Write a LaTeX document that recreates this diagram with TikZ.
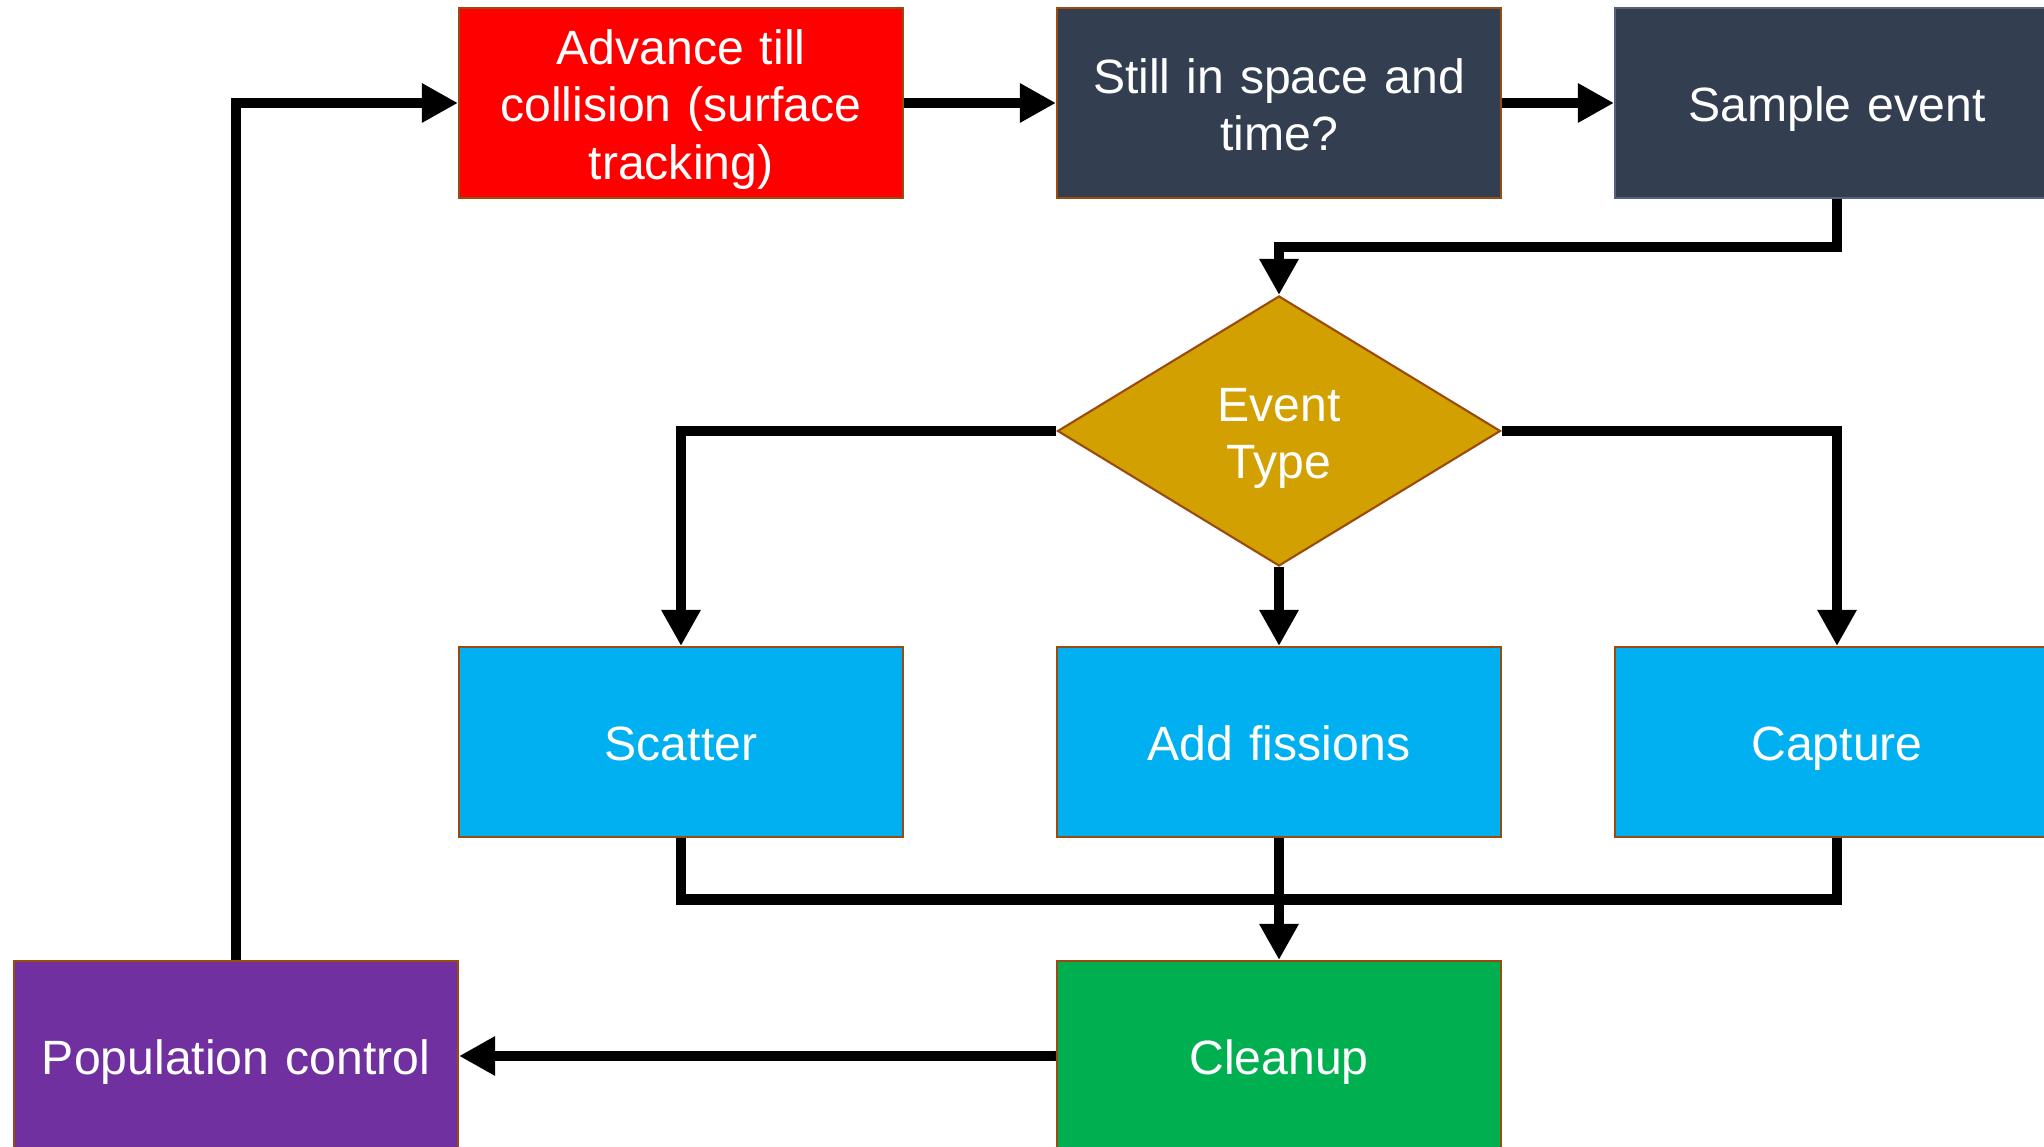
\documentclass[tikz,border=0pt]{standalone}
\usepackage{fontspec}
\setmainfont{Liberation Sans}
\usetikzlibrary{shapes.geometric,arrows.meta}
\definecolor{bord}{HTML}{9A4B0F}
\definecolor{cred}{HTML}{FF0000}
\definecolor{cdark}{HTML}{333F50}
\definecolor{cgold}{HTML}{D2A000}
\definecolor{ccyan}{HTML}{00B0F0}
\definecolor{cgreen}{HTML}{00B050}
\definecolor{cpurple}{HTML}{7030A0}
\definecolor{sbord}{HTML}{56627A}
\tikzset{
  lbltxt/.style={text=white, align=center, text width=4.3cm, inner sep=0pt, yshift=-2.1pt,
    font={\fontsize{13.7}{16.3}\selectfont\hyphenpenalty=10000\exhyphenpenalty=10000}},
  lbl/.style={label={[lbltxt]center:{\strut#1\strut}}},
  box/.style={rectangle, draw=bord, line width=0.6pt, minimum width=4.44cm, minimum height=1.9cm, inner sep=0pt},
  dec/.style={diamond, draw=bord, line width=0.6pt, fill=cgold, minimum width=4.43cm, minimum height=2.7cm, inner sep=0pt},
  conn/.style={line width=3.1pt, draw=black, line join=miter},
  arr/.style={conn, -{Triangle[length=0.36cm, width=0.37cm]}}
}
\begin{document}
\begin{tikzpicture}
\useasboundingbox (0,0) rectangle (20.44,-11.47);
\clip (0,0) rectangle (20.44,-11.47);
\fill[white] (0,0) rectangle (20.44,-11.47);
\node[box, fill=cred, lbl={Advance till\\collision (surface\\tracking)}] (adv) at (6.81,-1.03) {};
\node[box, fill=cdark, lbl={Still in space and\\time?}] (still) at (12.79,-1.03) {};
\node[box, fill=cdark, draw=sbord, lbl={Sample event}] (sample) at (18.37,-1.03) {};
\node[dec, lbl={Event\\Type}] (ev) at (12.79,-4.31) {};
\node[box, fill=ccyan, lbl={Scatter}] (scat) at (6.81,-7.42) {};
\node[box, fill=ccyan, lbl={Add fissions}] (fis) at (12.79,-7.42) {};
\node[box, fill=ccyan, lbl={Capture}] (cap) at (18.37,-7.42) {};
\node[box, fill=cgreen, lbl={Cleanup}] (clean) at (12.79,-10.56) {};
\node[box, fill=cpurple, lbl={Population control}] (pop) at (2.36,-10.56) {};
\draw[arr] (adv) -- (still);
\draw[arr] (still) -- (sample);
\draw[arr] (sample.south) -- ++(0,-0.48) -| (ev.north);
\draw[arr] (ev.west) -| (scat.north);
\draw[arr] (ev.east) -| (cap.north);
\draw[arr] (ev.south) -- (fis.north);
\draw[conn] (scat.south) -- ++(0,-0.61) -| (cap.south);
\draw[arr] (fis.south) -- (clean.north);
\draw[arr] (clean.west) -- (pop.east);
\draw[arr] (pop.north) |- (adv.west);
\end{tikzpicture}
\end{document}
